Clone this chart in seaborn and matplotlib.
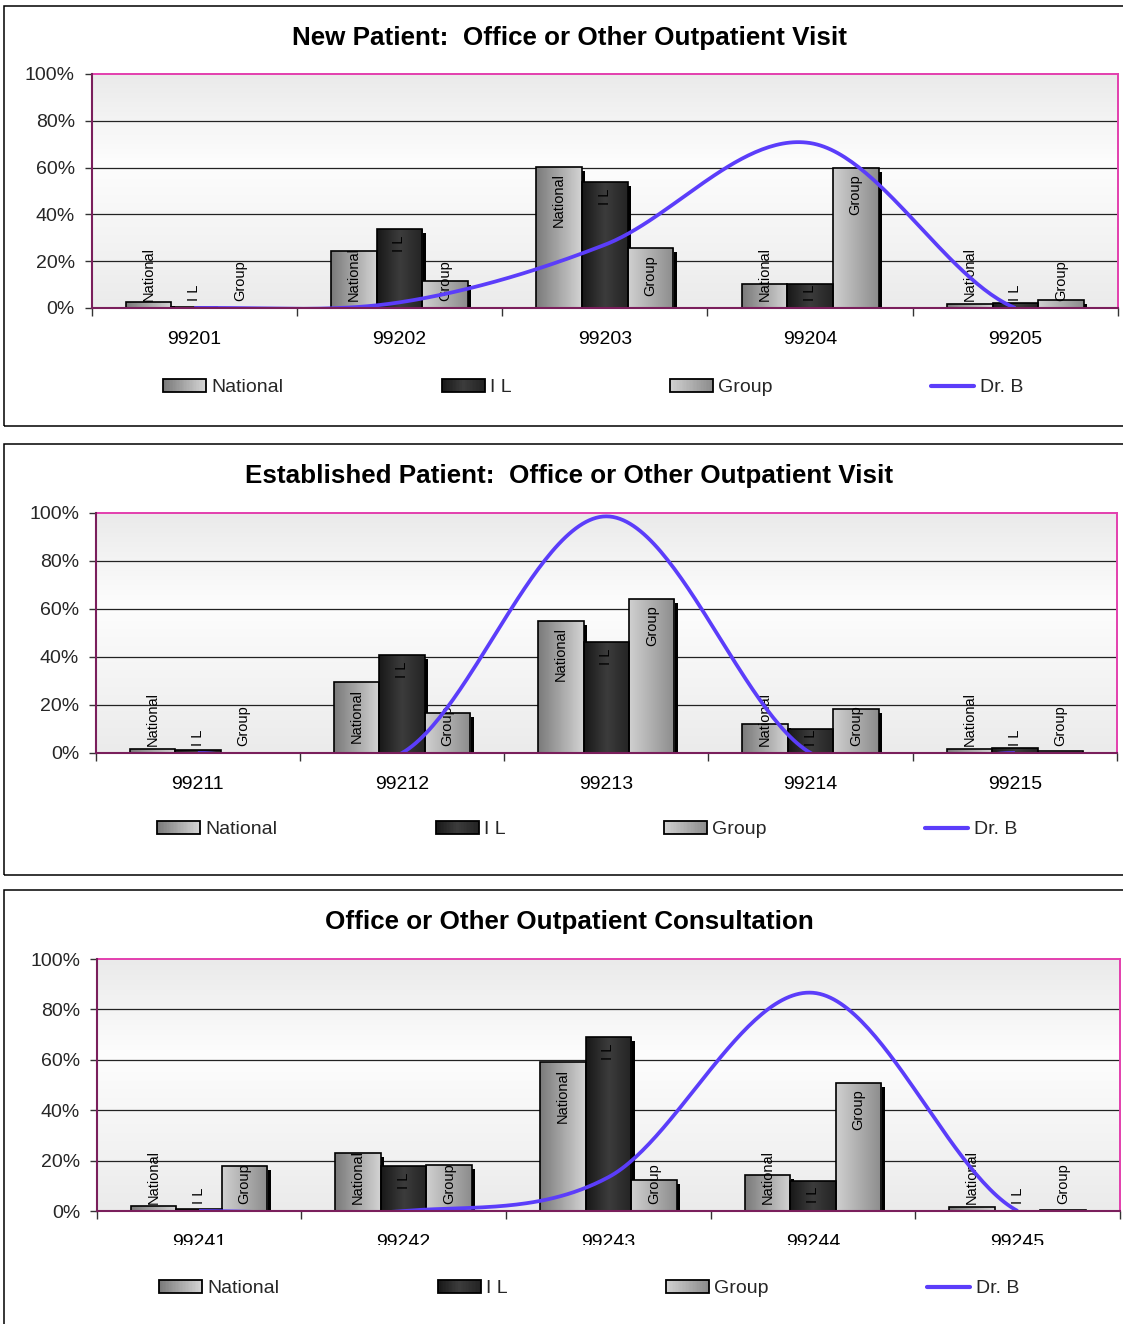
import numpy as np
import pandas as pd
import matplotlib
matplotlib.use("Agg")
import matplotlib.pyplot as plt
import seaborn as sns
from matplotlib.patches import Rectangle, Patch
from matplotlib.lines import Line2D
from matplotlib.colors import LinearSegmentedColormap
from matplotlib.transforms import ScaledTranslation, Bbox
from matplotlib.legend_handler import HandlerBase

# ---------------- data ----------------
series = ["National", "I L", "Group"]
line_name = "Dr. B"

titles = ["New Patient:  Office or Other Outpatient Visit",
          "Established Patient:  Office or Other Outpatient Visit",
          "Office or Other Outpatient Consultation"]

codes_new = ["99201", "99202", "99203", "99204", "99205"]
national_new = [2.7, 24.4, 60.4, 10.4, 1.9]
il_new = [0.5, 33.6, 53.8, 10.4, 2.2]
group_new = [0.0, 11.5, 25.5, 59.9, 3.3]
drb_new = [0.0, 2.4, 27.0, 70.5, 0.0]

codes_est = ["99211", "99212", "99213", "99214", "99215"]
national_est = [1.5, 29.4, 55.0, 12.2, 1.7]
il_est = [1.4, 40.7, 46.1, 10.0, 2.1]
group_est = [0.0, 16.5, 64.3, 18.3, 0.8]
drb_est = [0.0, 0.0, 98.6, 0.0, 0.0]

codes_con = ["99241", "99242", "99243", "99244", "99245"]
national_con = [2.1, 22.9, 59.1, 14.4, 1.5]
il_con = [0.8, 17.9, 69.0, 12.1, 0.0]
group_con = [18.0, 18.3, 12.3, 50.7, 0.5]
drb_con = [0.0, 0.0, 13.4, 86.6, 0.0]

# ---------------- style ----------------
sns.set_theme(style="white")
plt.rcParams["font.family"] = ["Liberation Sans", "DejaVu Sans"]

W, H = 1123, 1324
fig = plt.figure(figsize=(W / 100, H / 100), dpi=100)
fig.patch.set_facecolor("white")

grad_colors = {
    "National": ["#7a7a7a", "#d4d4d4"],
    "I L": ["#181818", "#3c3c3c", "#242424"],
    "Group": ["#d0d0d0", "#8c8c8c"],
}
flat_colors = ["#a8a8a8", "#2e2e2e", "#b0b0b0"]
line_color = "#5b3dfa"
pink = "#e33fae"
axis_purple = "#7a1f5c"

bg_cmap = LinearSegmentedColormap.from_list(
    "bg", [(0.0, "#ebebeb"), (0.62, "#fdfdfd"), (1.0, "#eaeaea")])


def catmull_rom(values, n=60):
    p = np.asarray(values, dtype=float)
    k = len(p)
    xs, ys = [], []
    for i in range(k - 1):
        pm = p[i - 1] if i > 0 else p[i]
        pp = p[i + 2] if i + 2 < k else p[i + 1]
        m0 = (p[i + 1] - pm) / 2.0
        m1 = (pp - p[i]) / 2.0
        t = np.linspace(0, 1, n, endpoint=(i == k - 2))
        h00 = 2 * t**3 - 3 * t**2 + 1
        h10 = t**3 - 2 * t**2 + t
        h01 = -2 * t**3 + 3 * t**2
        h11 = t**3 - t**2
        ys.append(h00 * p[i] + h10 * m0 + h01 * p[i + 1] + h11 * m1)
        xs.append(i + t)
    return np.concatenate(xs), np.concatenate(ys)


class GradHandler(HandlerBase):
    def __init__(self, colors):
        super().__init__()
        self.colors = colors

    def create_artists(self, legend, orig_handle, xdescent, ydescent,
                       width, height, fontsize, trans):
        cmap = LinearSegmentedColormap.from_list("g", self.colors)
        n = 30
        arts = []
        for i in range(n):
            arts.append(Rectangle((-xdescent + width * i / n, -ydescent),
                                  width / n * 1.1, height,
                                  facecolor=cmap(i / (n - 1)), edgecolor="none",
                                  transform=trans))
        arts.append(Rectangle((-xdescent, -ydescent), width, height,
                              facecolor="none", edgecolor="black", lw=1.3,
                              transform=trans))
        return arts


panels = [
    dict(title=titles[0], codes=codes_new, vals=[national_new, il_new, group_new], drb=drb_new,
         box=(91.5, 74, 1118, 308), frame=(4, 6, 426), title_y=38.5, legend_xy=(593, 387.5)),
    dict(title=titles[1], codes=codes_est, vals=[national_est, il_est, group_est], drb=drb_est,
         box=(95.7, 513, 1117, 753), frame=(4, 444, 875), title_y=476.5, legend_xy=(587, 829.5)),
    dict(title=titles[2], codes=codes_con, vals=[national_con, il_con, group_con], drb=drb_con,
         box=(96.7, 959, 1120, 1211), frame=(4, 890, 1400), title_y=922.5, legend_xy=(589, 1288.5)),
]

label_texts = []  # (ax, text, bar_top_value)

for pi, P in enumerate(panels):
    # outer frame
    fx, ftop, fbot = P["frame"]
    fig.add_artist(Rectangle((fx / W, 1 - fbot / H), (W + 20 - fx) / W, (fbot - ftop) / H,
                             transform=fig.transFigure, fill=False,
                             edgecolor="black", lw=1.1, zorder=0))
    x0, ytop, x1, ybot = P["box"]
    ax = fig.add_axes([x0 / W, 1 - ybot / H, (x1 - x0) / W, (ybot - ytop) / H])

    rows = []
    for s, vals in zip(series, P["vals"]):
        for c, v in zip(P["codes"], vals):
            rows.append(dict(code=c, series=s, value=v))
    df = pd.DataFrame(rows)

    sns.barplot(data=df, x="code", y="value", hue="series", hue_order=series,
                order=P["codes"], palette=flat_colors, width=0.667, saturation=1,
                edgecolor="black", linewidth=1.2, errorbar=None, legend=False, ax=ax)

    # background gradient
    bg = np.linspace(0, 1, 256).reshape(-1, 1)
    ax.imshow(bg, cmap=bg_cmap, origin="lower", extent=(0, 1, 0, 1),
              transform=ax.transAxes, aspect="auto", zorder=0, interpolation="bilinear")

    shadow_tr = ax.transData + ScaledTranslation(3.5 / 100, -4 / 100, fig.dpi_scale_trans)
    bars = list(ax.patches)
    for bar in bars:
        bx, bw, bh = bar.get_x(), bar.get_width(), bar.get_height()
        xc = bx + bw / 2
        cat = int(round(xc))
        si = int(round((xc - cat) / bw)) + 1
        sname = series[si]
        bar.set_facecolor("none")
        bar.set_zorder(3)
        if bh > 0:
            ax.add_patch(Rectangle((bx, 0), bw, bh, transform=shadow_tr,
                                   facecolor="black", edgecolor="none", zorder=1.5))
            cmap = LinearSegmentedColormap.from_list("b", grad_colors[sname])
            grad = cmap(np.linspace(0, 1, 64)).reshape(1, 64, 4)
            im = ax.imshow(grad, extent=(bx, bx + bw, 0, bh), aspect="auto",
                           zorder=2, interpolation="bilinear")
            im.set_clip_path(bar)
        t = ax.text(xc, bh, sname, rotation=90, ha="center", va="top",
                    fontsize=10.5, color="black", zorder=5)
        label_texts.append((ax, t, bh))

    # Dr. B smoothed line
    lx, ly = catmull_rom(P["drb"])
    ax.plot(lx, ly, color=line_color, lw=2.7, zorder=6, solid_capstyle="butt")

    ax.set_xlim(-0.5, 4.5)
    ax.set_ylim(0, 100)
    ax.set_yticks([0, 20, 40, 60, 80, 100])
    ax.set_yticklabels(["0%", "20%", "40%", "60%", "80%", "100%"], fontsize=14)
    ax.set_xticks([-0.5, 0.5, 1.5, 2.5, 3.5, 4.5])
    ax.set_xticklabels([])
    ax.set_xlabel("")
    ax.set_ylabel("")
    ax.tick_params(axis="y", which="major", direction="out", length=5, width=1,
                   color="#333333", pad=7, left=True)
    ax.tick_params(axis="x", which="major", direction="out", length=6, width=1,
                   color="#333333", bottom=True)

    # category labels (the last panel's are cut at the bottom like the original)
    for ci, code in enumerate(P["codes"]):
        xf = (x0 + (x1 - x0) * (ci + 0.5) / 5) / W
        tt = fig.text(xf, 1 - (ybot + 31.5) / H, code, ha="center", va="center",
                      fontsize=14, color="black")
        if pi == 2:
            tt.set_clip_on(True)
            tt.set_clip_box(Bbox([[0, H - 1244.5], [W, H]]))

    ax.set_axisbelow(True)
    ax.yaxis.grid(True, color="#222222", lw=0.9)
    ax.xaxis.grid(False)
    for gl, yv in zip(ax.get_ygridlines(), [0, 20, 40, 60, 80, 100]):
        if yv in (0, 100):
            gl.set_visible(False)

    for side in ("top", "right"):
        ax.spines[side].set_color(pink)
        ax.spines[side].set_linewidth(1.4)
    for side in ("left", "bottom"):
        ax.spines[side].set_color(axis_purple)
        ax.spines[side].set_linewidth(1.5)
        ax.spines[side].set_zorder(7)
    for side in ax.spines:
        ax.spines[side].set_visible(True)

    fig.text(569 / W, 1 - P["title_y"] / H, P["title"], ha="center", va="center",
             fontsize=18.7, fontweight="bold", color="black")

    handles = [Patch(label=s) for s in series] + [Line2D([], [], color=line_color, lw=3)]
    hmap = {handles[i]: GradHandler(grad_colors[series[i]]) for i in range(3)}
    lx_, ly_ = P["legend_xy"]
    leg = ax.legend(handles, series + [line_name], handler_map=hmap, loc="center",
                    bbox_to_anchor=(lx_ / W, 1 - ly_ / H), bbox_transform=fig.transFigure,
                    ncol=4, frameon=False, fontsize=14, handlelength=2.2,
                    handleheight=0.68, handletextpad=0.28, columnspacing=8.15,
                    borderaxespad=0, borderpad=0)

# place bar labels (inside end, clamped above baseline)
fig.canvas.draw()
renderer = fig.canvas.get_renderer()
for ax, t, bh in label_texts:
    pxper = ax.get_window_extent(renderer).height / 100.0
    length = t.get_window_extent(renderer).height
    top_px = bh * pxper - 6.5
    if top_px - length < 7:
        top_px = 7 + length
    t.set_y(top_px / pxper)

fig.savefig("out.png", dpi=100, facecolor="white")
